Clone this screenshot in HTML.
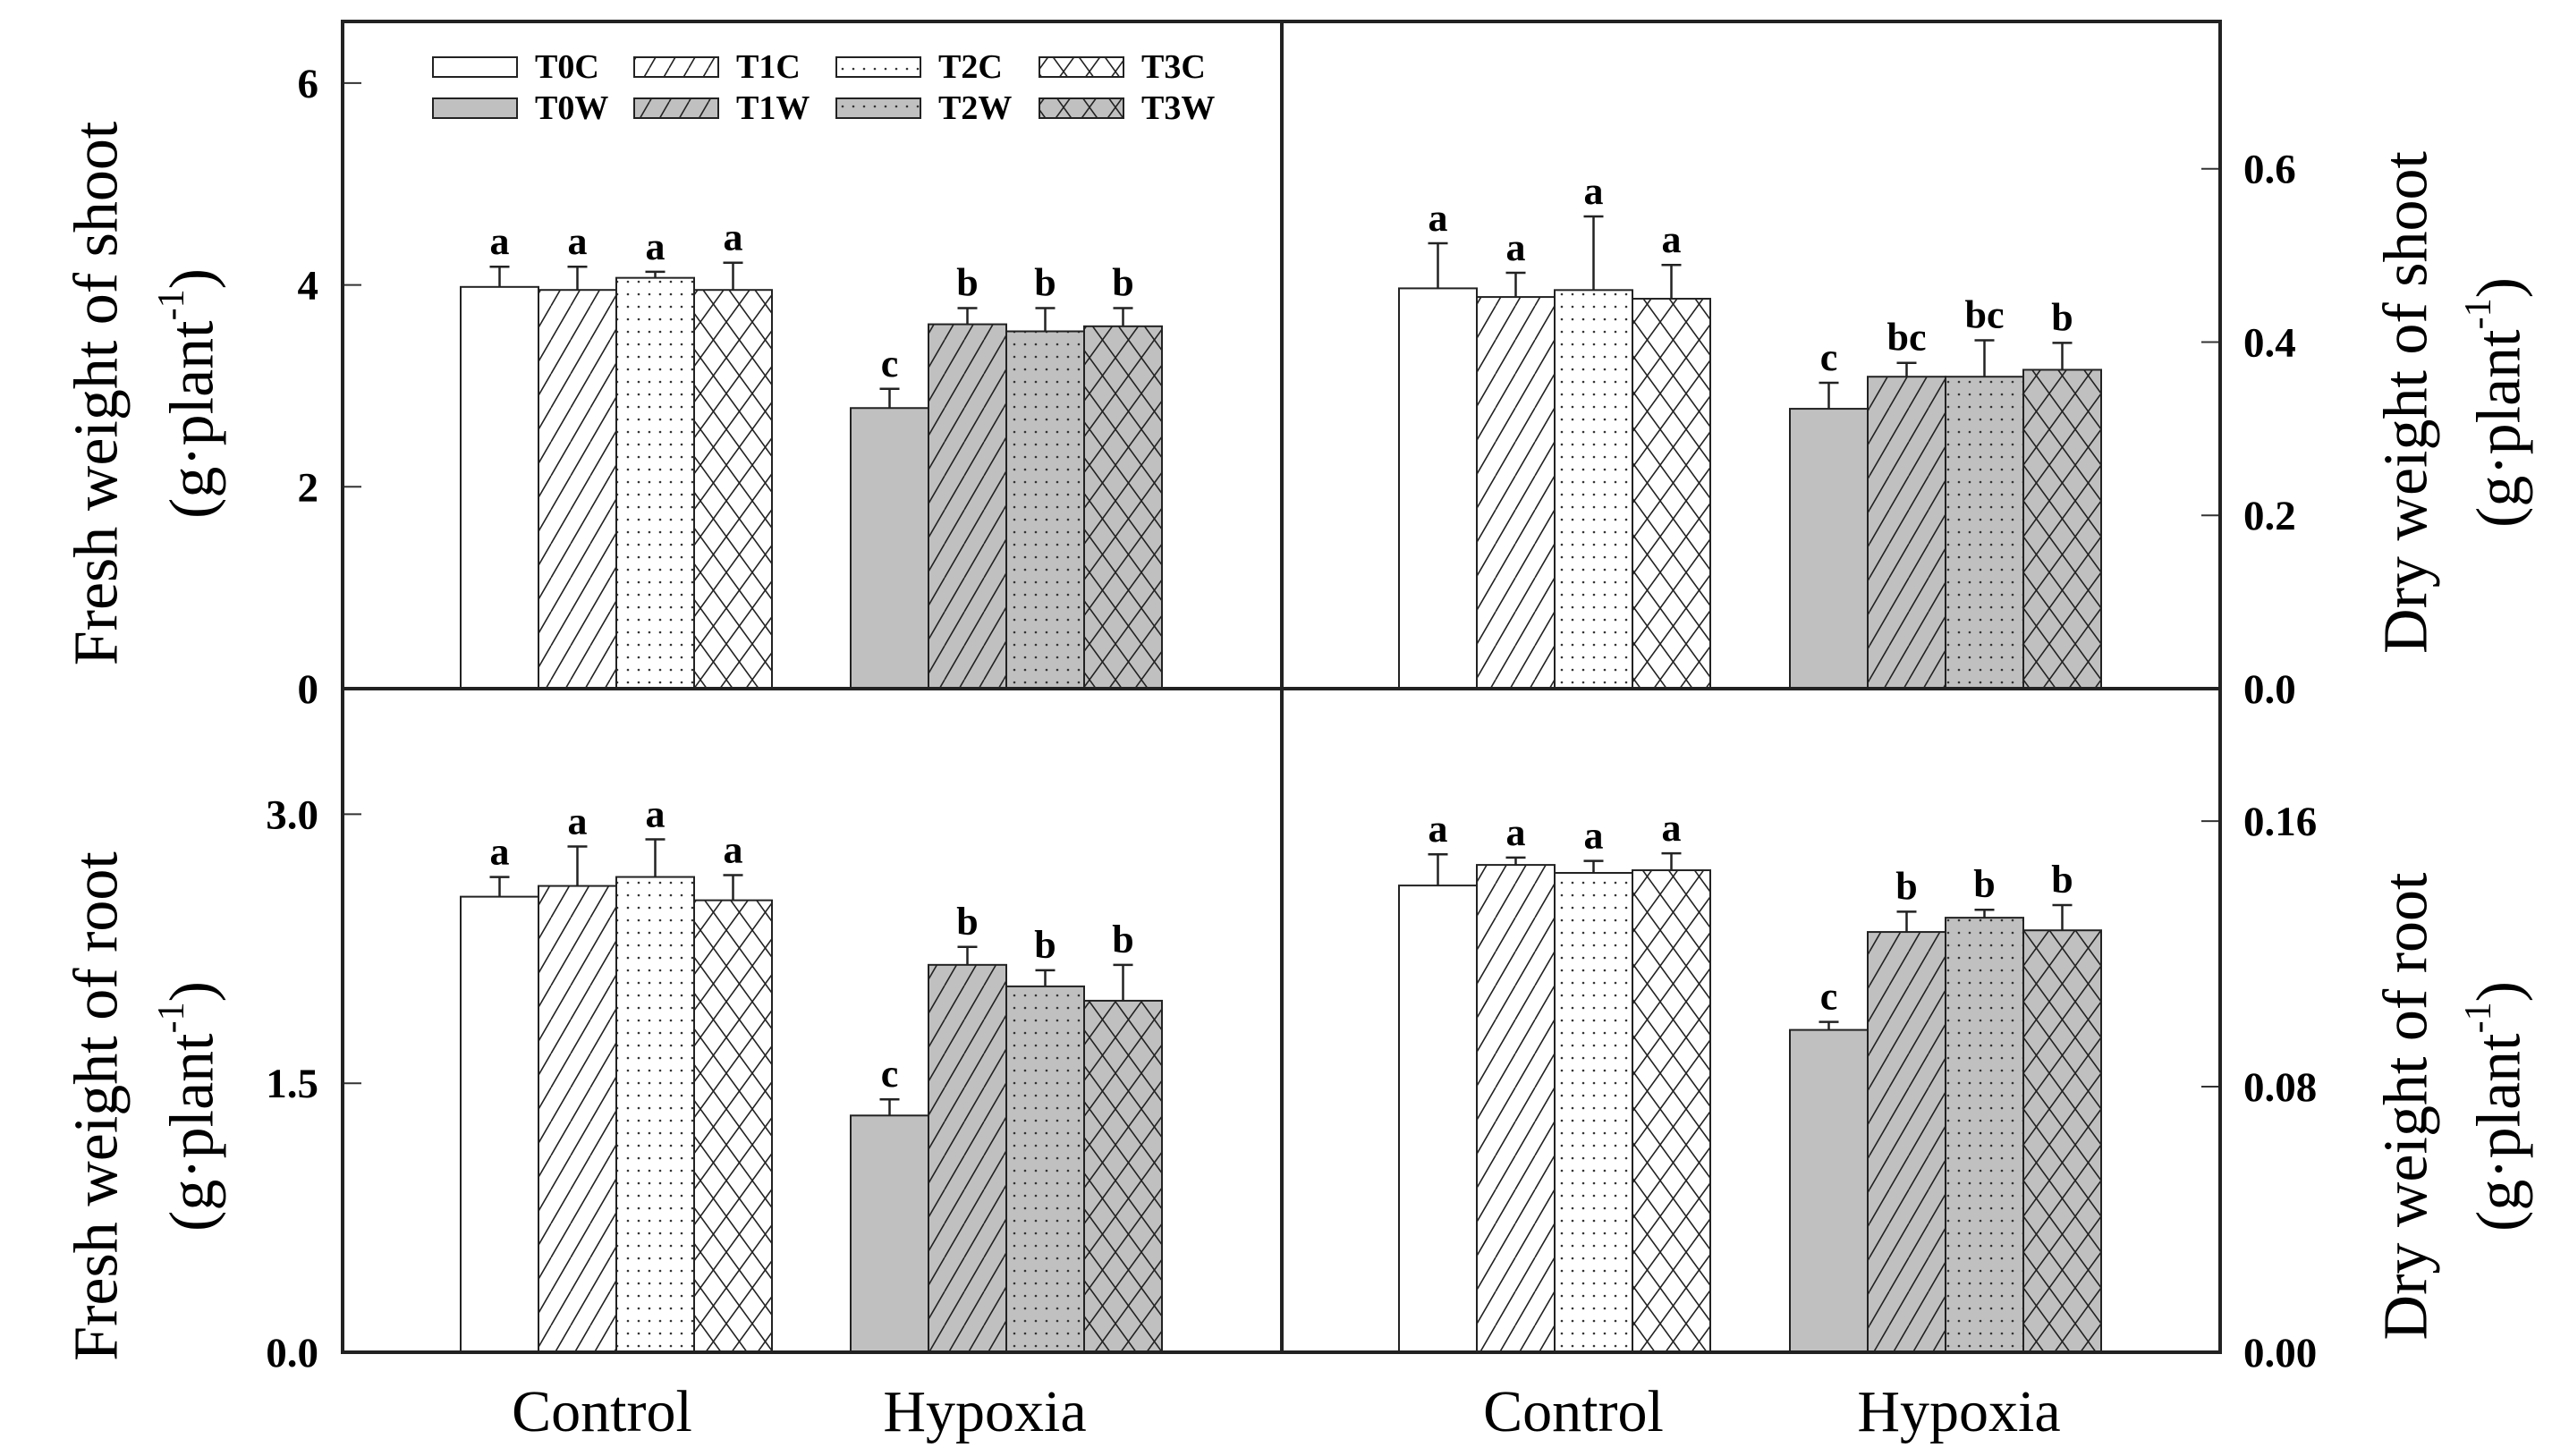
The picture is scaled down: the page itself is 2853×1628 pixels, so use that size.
<!DOCTYPE html>
<html><head><meta charset="utf-8"><style>
html,body{margin:0;padding:0;background:#fff}
svg{display:block}
text{font-family:"Liberation Serif",serif}
</style></head><body>
<svg id="fig" width="2853" height="1628" viewBox="0 0 2853 1628" xmlns="http://www.w3.org/2000/svg">
<defs>
<pattern id="hatch" patternUnits="userSpaceOnUse" width="22" height="38"><path d="M-11,19 L0,0 M0,38 L22,0 M22,38 L33,19" stroke="#222" stroke-width="1.6"/></pattern>
<pattern id="cross" patternUnits="userSpaceOnUse" width="29" height="40"><path d="M0,0 L29,40 M29,0 L0,40" stroke="#222" stroke-width="1.6"/></pattern>
<pattern id="dots" patternUnits="userSpaceOnUse" width="12" height="14"><circle cx="6" cy="7" r="1.3" fill="#333"/></pattern>
</defs>
<g id="plot"></g>
</svg>
<script>
const groups = ["Control","Hypoxia"];
const series = ["T0C","T1C","T2C","T3C","T0W","T1W","T2W","T3W"];
const fsVals = [3.98,3.95,4.07,3.95, 2.78,3.61,3.54,3.59];
const fsErr  = [0.20,0.23,0.06,0.27, 0.19,0.16,0.23,0.18];
const fsLet  = ["a","a","a","a","c","b","b","b"];
const dsVals = [0.462,0.452,0.460,0.450, 0.323,0.360,0.360,0.368];
const dsErr  = [0.052,0.028,0.085,0.039, 0.030,0.016,0.042,0.031];
const dsLet  = ["a","a","a","a","c","bc","bc","b"];
const frVals = [2.54,2.60,2.65,2.52, 1.32,2.16,2.04,1.96];
const frErr  = [0.11,0.22,0.21,0.14, 0.09,0.10,0.09,0.20];
const frLet  = ["a","a","a","a","c","b","b","b"];
const drVals = [0.1406,0.1468,0.1444,0.1452, 0.0971,0.1266,0.1309,0.1271];
const drErr  = [0.0094,0.0022,0.0036,0.0051, 0.0024,0.0061,0.0024,0.0076];
const drLet  = ["a","a","a","a","c","b","b","b"];
const fsTicks = [0,2,4,6];
const dsTicks = [0.0,0.2,0.4,0.6];
const frTicks = [0.0,1.5,3.0];
const drTicks = [0.00,0.08,0.16];

const NS="http://www.w3.org/2000/svg";
const root=document.getElementById('plot');
function el(tag,attrs,parent){const e=document.createElementNS(NS,tag);for(const k in attrs)e.setAttribute(k,attrs[k]);(parent||root).appendChild(e);return e;}
const fills=["#fff","url(#hatch)","url(#dots)","url(#cross)"];
const L=383,M=1433,R=2482,T=24,MY=770,B=1512;

function panel(name,x0,x1,y0,y1,vmax,vals,errs,lets,ticks,fmt,side,groupStarts){
  const g=el('g',{});
  
  
  const y=v=>y1-(v/vmax)*(y1-y0);
  const bw=87;
  vals.forEach((v,i)=>{
    const gi=Math.floor(i/4),k=i%4;
    const bx=groupStarts[gi]+k*bw;
    const gray=gi===1;
    if(gray){el('rect',{x:bx,y:y(v),width:bw,height:y1-y(v),fill:"#c0c0c0"},g);}
    const r=el('rect',{x:bx,y:y(v),width:bw,height:y1-y(v),fill:gray&&k===0?"#c0c0c0":fills[k],stroke:"#222","stroke-width":2},g);
    
    
    const cx=bx+bw/2,et=y(v+errs[i]);
    const eb=el('path',{d:`M${cx},${y(v)} L${cx},${et} M${cx-11},${et} L${cx+11},${et}`,stroke:"#222","stroke-width":2.5,fill:"none"},g);
    
    
    const t=el('text',{x:cx,y:et-14,"text-anchor":"middle","font-size":44,"font-weight":"bold"},g);
    t.textContent=lets[i];
    
    
  });
  ticks.forEach(tv=>{
    const ty=y(tv);
    if(side==='left'){
      el('line',{x1:x0,x2:x0+21,y1:ty,y2:ty,stroke:"#333","stroke-width":2},g);
      const t=el('text',{x:356,y:ty+16,"text-anchor":"end","font-size":47,"font-weight":"bold"},g);
      t.textContent=fmt(tv);
      
      
    } else {
      el('line',{x1:x1-21,x2:x1,y1:ty,y2:ty,stroke:"#333","stroke-width":2},g);
      const t=el('text',{x:2508,y:ty+16,"text-anchor":"start","font-size":47,"font-weight":"bold"},g);
      t.textContent=fmt(tv);
      
      
    }
  });
}
panel('fresh-shoot',L,M,T,MY,6.61,fsVals,fsErr,fsLet,fsTicks,v=>v.toFixed(0),'left',[515,951]);
panel('dry-shoot',M,R,T,MY,0.770,dsVals,dsErr,dsLet,dsTicks,v=>v.toFixed(1),'right',[1564,2001]);
panel('fresh-root',L,M,MY,B,3.70,frVals,frErr,frLet,frTicks,v=>v.toFixed(1),'left',[515,951]);
panel('dry-root',M,R,MY,B,0.1999,drVals,drErr,drLet,drTicks,v=>v.toFixed(2),'right',[1564,2001]);

const fr=el('path',{d:`M${L},${T} H${R} V${B} H${L} Z M${M},${T} V${B} M${L},${MY} H${R}`,fill:"none",stroke:"#222","stroke-width":4});



function vtitle(cx,cy,txt,name){
  const t=el('text',{x:cx,y:cy,"text-anchor":"middle","font-size":70,transform:`rotate(-90 ${cx} ${cy})`,"dominant-baseline":"central"});
  t.innerHTML=txt;
  
  
}
const unit='(g·plant<tspan baseline-shift="super" font-size="42">-1</tspan>)';
vtitle(108,440,'Fresh weight of shoot','fresh-shoot-y-title');
vtitle(215,440,unit,'fresh-shoot-y-unit');
vtitle(108,1237,'Fresh weight of root','fresh-root-y-title');
vtitle(215,1237,unit,'fresh-root-y-unit');
vtitle(2690,450,'Dry weight of shoot','dry-shoot-y-title');
vtitle(2794,450,unit,'dry-shoot-y-unit');
vtitle(2690,1237,'Dry weight of root','dry-root-y-title');
vtitle(2794,1237,unit,'dry-root-y-unit');

[[673,'Control'],[1101,'Hypoxia'],[1759,'Control'],[2190,'Hypoxia']].forEach(([x,s],i)=>{
  const t=el('text',{x:x,y:1600,"text-anchor":"middle","font-size":66});
  t.textContent=s;
  
  
});

const lg=el('g',{});


const lx=[484,709,935,1162];
series.forEach((s,i)=>{
  const row=Math.floor(i/4),k=i%4;
  const yy=row?110:64;
  const e=el('g',{},lg);
  
  
  if(row) el('rect',{x:lx[k],y:yy,width:94,height:22,fill:"#c0c0c0"},e);
  el('rect',{x:lx[k],y:yy,width:94,height:22,fill:row&&k===0?"#c0c0c0":fills[k],stroke:"#222","stroke-width":2},e);
  const t=el('text',{x:lx[k]+114,y:yy+23,"font-size":38,"font-weight":"bold"},e);
  t.textContent=s;
});
</script>
</body></html>
